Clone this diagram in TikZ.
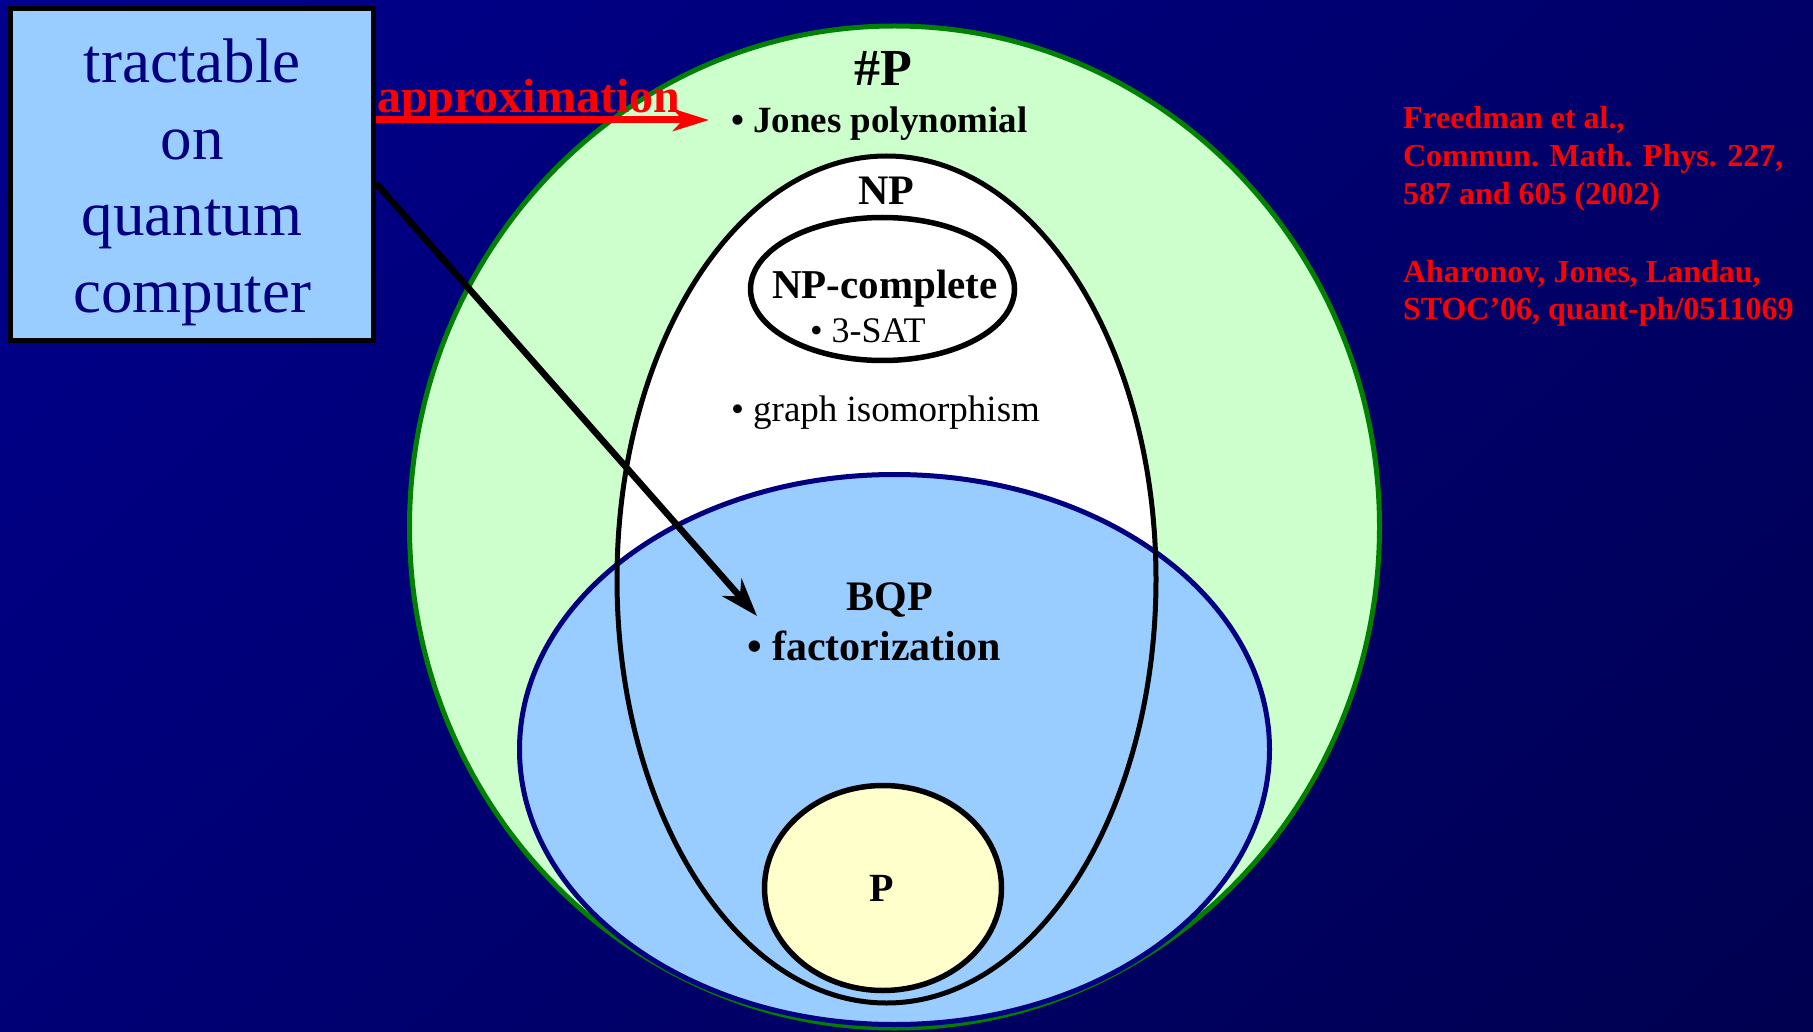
\documentclass[tikz,border=0pt]{standalone}
\usepackage{fontspec}
\setmainfont{Liberation Serif}
\usetikzlibrary{shapes.geometric,arrows.meta,shadings}
\definecolor{bgUL}{RGB}{0,0,142}
\definecolor{bgUR}{RGB}{0,0,104}
\definecolor{bgLL}{RGB}{0,0,118}
\definecolor{bgLR}{RGB}{0,0,80}
\definecolor{sharpfill}{HTML}{CCFFCC}
\definecolor{sharpline}{HTML}{008000}
\definecolor{bqpfill}{HTML}{99CCFF}
\definecolor{bqpline}{HTML}{000080}
\definecolor{pfill}{HTML}{FFFFCC}
\definecolor{navytext}{HTML}{000080}
\definecolor{refred}{HTML}{FF0000}
\newcommand\fsz[1]{\fontsize{#1}{#1}\selectfont}
\begin{document}
\begin{tikzpicture}[x=1pt,y=-1pt,
  region/.style={ellipse, inner sep=0pt, outer sep=0pt},
  lbl/.style={inner sep=0pt, outer sep=0pt, anchor=base},
  lblw/.style={inner sep=0pt, outer sep=0pt, anchor=base west},
  boxtext/.style={lbl, font=\fsz{63}, text=navytext},
  reftext/.style={lblw, font=\fsz{32}\bfseries, text=refred},
  redarrow/.style={line width=7pt, refred, -{Stealth[length=36pt,width=22pt,inset=10pt]}},
  blackarrow/.style={line width=6.5pt, black, -{Stealth[length=38pt,width=26pt,inset=12pt]}}
]
\useasboundingbox (0,0) rectangle (1813,1032);
\shade[upper left=bgUL, upper right=bgUR, lower left=bgLL, lower right=bgLR] (0,0) rectangle (1813,1032);

% regions
\node[region, fill=sharpfill, draw=sharpline, line width=5pt, minimum width=970pt, minimum height=1002pt] (sharpP) at (894.5,527) {};
\node[region, fill=white, minimum width=539pt, minimum height=847pt] (np) at (886.5,579.5) {};
\node[region, fill=bqpfill, draw=bqpline, line width=5pt, minimum width=750pt, minimum height=550pt] (bqp) at (894.5,749.5) {};
\node[region, draw=black, line width=5pt, minimum width=539pt, minimum height=847pt] (npline) at (np.center) {};
\node[region, fill=white, draw=black, line width=5.5pt, minimum width=264pt, minimum height=143pt] (npc) at (882.5,289) {};
\node[region, fill=pfill, draw=black, line width=5.5pt, minimum width=237pt, minimum height=205pt] (pclass) at (883,888) {};

% labels
\node[lbl, font=\fsz{52}\bfseries] (sharpPlabel) at (883,86) {\#P};
\node[lblw, font=\fsz{37}\bfseries] (jones) at (731,133) {• Jones polynomial};
\node[lbl, font=\fsz{42}\bfseries] (nplabel) at (886,205) {NP};
\node[lbl, font=\fsz{41}\bfseries] (npclabel) at (885,299) {NP-complete};
\node[lblw, font=\fsz{36}] (sat) at (810,343) {• 3-SAT};
\node[lblw, font=\fsz{37}] (gi) at (731,421) {• graph isomorphism};
\node[lbl, font=\fsz{42}\bfseries] (bqplabel) at (890,610) {BQP};
\node[lblw, font=\fsz{42}\bfseries] (fact) at (747,660) {• factorization};
\node[lbl, font=\fsz{40}\bfseries] (plabel) at (882,901) {P};

% quantum computer box
\node[draw=black, fill=bqpfill, line width=5pt, minimum width=363pt, minimum height=332pt, inner sep=0pt] (qc) at (192,174.5) {};
\node[boxtext] (qc1) at (192,83) {tractable};
\node[boxtext] (qc2) at (192,159.5) {on};
\node[boxtext] (qc3) at (192,236) {quantum};
\node[boxtext] (qc4) at (192,312.5) {computer};

% approximation
\node[lblw, font=\fsz{48}\bfseries, text=refred] (approx) at (377,113) {approximation};

% references
\node[reftext] (ref1) at (1403,129) {Freedman et al.,};
\node[reftext] (ref2) at (1403,167) {Commun. Math. Phys. 227,};
\node[reftext] (ref3) at (1403,205) {587 and 605 (2002)};
\node[reftext] (ref4) at (1403,283) {Aharonov, Jones, Landau,};
\node[reftext] (ref5) at (1403,320) {STOC’06, quant-ph/0511069};

% arrows
\coordinate (redtip) at (709,120);
\coordinate (qcout) at (376,183);
\coordinate (facttip) at (757,616);
\draw[redarrow] (qc.east |- redtip) -- (redtip);
\draw[blackarrow] (qcout) -- (facttip);
\end{tikzpicture}
\end{document}
